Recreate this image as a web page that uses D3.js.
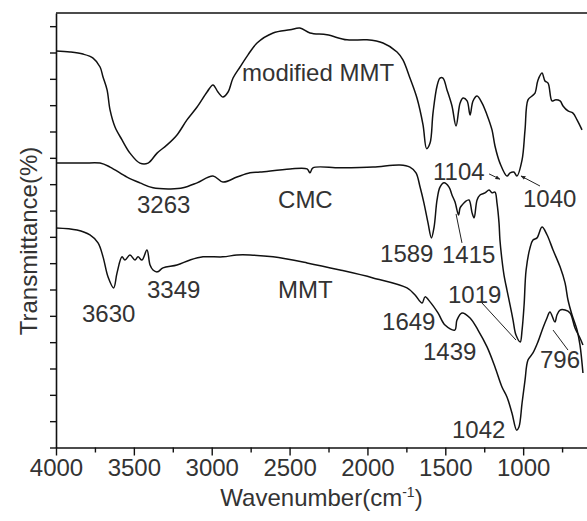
<!DOCTYPE html>
<html lang="en">
<head>
<meta charset="UTF-8">
<title>FTIR spectra</title>
<style>
  body { margin: 0; background: #fff; }
  text { font-family: "Liberation Sans", Arial, sans-serif; }
</style>
</head>
<body>
<script src="https://cdn.jsdelivr.net/npm/d3@7"></script>
<script>
// tick values
var majorTicks = [4000, 3500, 3000, 2500, 2000, 1500, 1000];
var minorTicks = [3750, 3250, 2750, 2250, 1750, 1250, 750];
var yTicks = [0, 10, 20, 30, 40, 50, 60, 70, 80, 90, 100, 110, 120, 130, 140, 150, 160];

// spectra: [wavenumber, transmittance (offset, arbitrary)]
var modifiedMMT = [[4000,150.6],[3910,150.2],[3827,149.4],[3762,147.9],[3717,144.5],[3698,140.7],[3672,135.8],
  [3653,128.2],[3621,121.7],[3576,116.8],[3525,111.8],[3461,108.0],[3409,108.0],[3351,111.8],[3287,114.9],
  [3223,118.7],[3159,124.4],[3094,129.3],[3030,135.0],[2992,137.7],[2960,135.0],[2928,133.1],[2895,135.0],
  [2863,140.3],[2818,144.5],[2767,149.1],[2709,153.6],[2606,157.4],[2497,158.6],[2434,159.3],[2369,157.4],
  [2260,156.7],[2131,154.8],[2003,154.8],[1900,153.6],[1810,150.2],[1772,147.2],[1727,140.3],[1682,132.7],
  [1643,122.5],[1620,113.5],[1598,115.6],[1579,127.0],[1553,137.3],[1534,140.3],[1515,140.3],[1489,135.8],
  [1457,129.7],[1431,122.1],[1405,130.8],[1386,132.7],[1360,131.6],[1341,126.3],[1322,131.6],[1296,133.5],
  [1264,130.8],[1232,126.3],[1200,120.6],[1181,114.5],[1149,108.0],[1104,103.1],[1084,104.3],[1060,104.6],
  [1040,103.1],[1007,109.2],[988,120.6],[969,132.0],[943,133.5],[924,134.6],[905,139.5],[879,142.2],
  [860,139.2],[840,138.4],[815,131.6],[795,132.0],[763,131.6],[744,129.7],[712,127.8],[680,127.0],
  [654,124.4],[622,120.6]];

var cmc = [[4000,108.0],[3827,108.0],[3717,108.0],[3653,106.5],[3544,102.7],[3461,100.5],[3377,98.6],
  [3263,98.2],[3184,98.6],[3094,100.5],[2992,103.1],[2928,100.8],[2838,102.7],[2754,104.3],[2690,104.6],
  [2497,105.8],[2388,105.8],[2369,104.3],[2350,106.2],[2176,106.2],[1964,106.5],[1791,107.3],[1727,106.5],
  [1688,104.3],[1662,98.9],[1637,92.8],[1611,85.3],[1589,79.6],[1572,83.7],[1553,94.0],[1534,98.9],
  [1508,100.5],[1476,98.9],[1457,95.9],[1438,93.3],[1415,88.3],[1405,91.0],[1392,92.1],[1373,93.3],
  [1348,94.0],[1328,89.1],[1315,87.2],[1296,94.0],[1277,95.9],[1245,96.7],[1219,97.8],[1200,96.7],
  [1181,97.0],[1168,92.8],[1155,85.3],[1149,78.8],[1136,71.2],[1123,65.5],[1104,59.8],[1084,54.1],
  [1065,48.4],[1046,42.7],[1019,40.1],[1007,44.6],[994,54.1],[981,67.4],[956,75.8],[937,78.8],[911,79.6],
  [879,83.7],[847,80.8],[808,75.0],[763,68.6],[731,62.5],[712,56.0],[686,50.3],[654,44.6],[635,38.9],
  [616,28.3]];

var mmt = [[4000,83.4],[3865,82.6],[3782,80.7],[3730,77.7],[3698,72.4],[3666,64.8],[3630,60.6],[3608,66.3],
  [3576,72.4],[3557,71.2],[3525,73.1],[3493,71.2],[3473,72.4],[3448,71.2],[3416,75.0],[3396,69.3],
  [3377,67.4],[3349,66.7],[3313,68.2],[3223,69.3],[3139,71.2],[3056,72.4],[2928,72.4],[2838,73.1],
  [2754,73.1],[2606,72.4],[2388,70.1],[2176,67.4],[1964,64.4],[1746,60.6],[1694,57.9],[1649,54.9],
  [1630,57.2],[1598,55.3],[1547,51.1],[1502,46.5],[1439,44.6],[1425,48.4],[1393,51.1],[1341,49.2],
  [1290,44.6],[1232,38.2],[1181,30.6],[1136,23.0],[1104,19.2],[1072,13.1],[1042,6.6],[1027,7.8],
  [1007,16.9],[988,25.6],[969,33.2],[937,35.9],[905,40.1],[873,45.4],[847,49.2],[828,51.5],[796,47.7],
  [783,50.3],[763,52.2],[731,52.2],[699,51.1],[667,45.4],[635,41.6],[616,38.9]];

// labels placed in data coordinates [text, wavenumber, transmittance]
var labels = [["modified MMT",2805,139.2],["CMC",2574,91.0],["MMT",2574,56.8],["3263",3480,89.1],
  ["3630",3833,47.7],["3349",3416,56.8],["1649",1906,44.6],["1439",1643,33.2],["1042",1457,3.6],
  ["796",892,30.2],["1019",1483,54.9],["1589",1919,70.5],["1415",1521,70.1],["1104",1579,101.6],
  ["1040",1001,91.3]];
// pointer lines [w1, t1, w2, t2, arrow]
var pointers = [[1219,103.9,1149,101.9,true],[892,99.3,1014,103.1,true],[1393,77.7,1431,88.7,false],
  [1271,55.3,1046,40.8,false],[712,37.0,808,44.6,false]];

var width = 587, height = 521;

var x = d3.scaleLinear().domain([4000, 590]).range([56, 587]);
var y = d3.scaleLinear().domain([0, 165]).range([447.5, 13]);

var svg = d3.select('body').append('svg')
    .attr('width', width)
    .attr('height', height);

svg.append('defs').append('marker')
    .attr('id', 'arr')
    .attr('viewBox', '0 0 10 10')
    .attr('refX', 9).attr('refY', 5)
    .attr('markerWidth', 5).attr('markerHeight', 5)
    .attr('orient', 'auto')
    .append('path').attr('d', 'M0,1L10,5L0,9z').attr('fill', '#222');

// frame top line
svg.append('line')
    .attr('x1', x(4000)).attr('x2', x.range()[1])
    .attr('y1', y(165)).attr('y2', y(165))
    .attr('stroke', '#111').attr('stroke-width', 1.6);

// x axis
var xAxis = svg.append('g')
    .attr('transform', 'translate(0,' + y(0) + ')')
    .call(d3.axisBottom(x).tickValues(majorTicks).tickFormat(d3.format('d'))
        .tickSize(8).tickSizeOuter(0).tickPadding(3));
xAxis.select('.domain').attr('stroke', '#111').attr('stroke-width', 1.6);
xAxis.selectAll('.tick line').attr('stroke', '#111').attr('stroke-width', 1.4);
xAxis.selectAll('text').attr('font-size', 24).attr('fill', '#333')
    .attr('font-family', '"Liberation Sans", Arial, sans-serif');

var xMinor = svg.append('g')
    .attr('transform', 'translate(0,' + y(0) + ')')
    .call(d3.axisBottom(x).tickValues(minorTicks).tickSize(5).tickFormat(''));
xMinor.select('.domain').remove();
xMinor.selectAll('.tick line').attr('stroke', '#111').attr('stroke-width', 1.4);

// y axis
var yAxis = svg.append('g')
    .attr('transform', 'translate(' + x(4000) + ',0)')
    .call(d3.axisLeft(y).tickValues(yTicks).tickSize(6).tickSizeOuter(0).tickFormat(''));
yAxis.select('.domain').attr('stroke', '#111').attr('stroke-width', 1.6);
yAxis.selectAll('.tick line').attr('stroke', '#111').attr('stroke-width', 1.4);

// spectra
var line = d3.line()
    .x(function (d) { return x(d[0]); })
    .y(function (d) { return y(d[1]); })
    .curve(d3.curveCatmullRom.alpha(0.5));

[modifiedMMT, cmc, mmt].forEach(function (s) {
    svg.append('path')
        .datum(s)
        .attr('d', line)
        .attr('fill', 'none')
        .attr('stroke', '#111')
        .attr('stroke-width', 1.5);
});

// pointers
svg.selectAll('.ptr').data(pointers).enter().append('line')
    .attr('x1', function (d) { return x(d[0]); })
    .attr('y1', function (d) { return y(d[1]); })
    .attr('x2', function (d) { return x(d[2]); })
    .attr('y2', function (d) { return y(d[3]); })
    .attr('stroke', '#222').attr('stroke-width', 1)
    .attr('marker-end', function (d) { return d[4] ? 'url(#arr)' : null; });

// labels
svg.selectAll('.lbl').data(labels).enter().append('text')
    .attr('x', function (d) { return x(d[1]); })
    .attr('y', function (d) { return y(d[2]); })
    .attr('font-size', 24)
    .attr('fill', '#333')
    .text(function (d) { return d[0]; });

// axis titles
var xt = svg.append('text')
    .attr('x', (x.range()[0] + x.range()[1]) / 2)
    .attr('y', 506)
    .attr('text-anchor', 'middle')
    .attr('font-size', 24)
    .attr('fill', '#333');
xt.append('tspan').text('Wavenumber(cm');
xt.append('tspan').attr('font-size', 14).attr('dy', -9).text('-1');
xt.append('tspan').attr('dy', 9).text(')');

svg.append('text')
    .attr('transform', 'translate(37,241) rotate(-90)')
    .attr('text-anchor', 'middle')
    .attr('font-size', 24)
    .attr('fill', '#333')
    .text('Transmittance(%)');
</script>
</body>
</html>
